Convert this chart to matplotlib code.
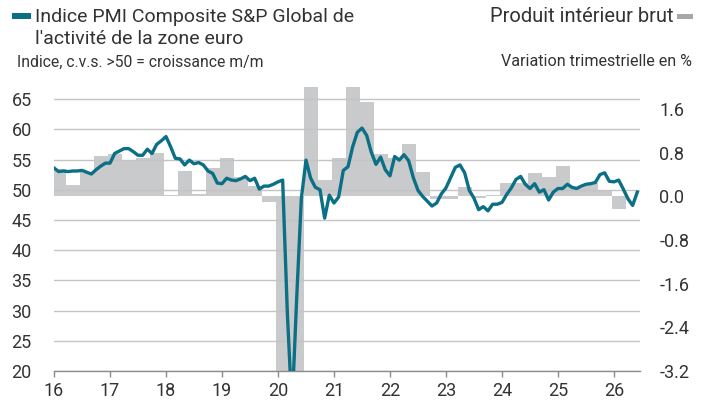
import matplotlib
matplotlib.use('Agg')

import matplotlib.pyplot as plt
import numpy as np
from matplotlib.ticker import FixedLocator, FormatStrFormatter
from matplotlib.patches import Rectangle

plt.rcParams['font.family'] = ['Roboto', 'DejaVu Sans']

# Indice PMI composite, mensuel, janv. 2016 -> juin 2026
pmi_2016 = [53.6, 53.0, 53.1, 53.0, 53.1, 53.1, 53.2, 52.9, 52.6, 53.3, 53.9, 54.4]
pmi_2017 = [54.4, 56.0, 56.4, 56.8, 56.8, 56.3, 55.7, 55.7, 56.7, 56.0, 57.5, 58.1]
pmi_2018 = [58.8, 57.1, 55.2, 55.1, 54.1, 54.9, 54.3, 54.5, 54.1, 53.1, 52.7, 51.1]
pmi_2019 = [51.0, 51.9, 51.6, 51.5, 51.8, 52.2, 51.5, 51.9, 50.1, 50.6, 50.6, 50.9]
pmi_2020 = [51.3, 51.6, 29.7, 13.6, 31.9, 48.5, 54.9, 51.9, 50.4, 50.0, 45.3, 49.1]
pmi_2021 = [47.8, 48.8, 53.2, 53.8, 57.1, 59.5, 60.2, 59.0, 56.2, 54.2, 55.4, 53.3]
pmi_2022 = [52.3, 55.5, 54.9, 55.8, 54.8, 52.0, 49.9, 48.9, 48.1, 47.3, 47.8, 49.3]
pmi_2023 = [50.3, 52.0, 53.7, 54.1, 52.8, 49.9, 48.6, 46.7, 47.2, 46.5, 47.6, 47.6]
pmi_2024 = [47.9, 49.2, 50.3, 51.7, 52.2, 50.9, 50.2, 51.0, 49.6, 50.0, 48.3, 49.6]
pmi_2025 = [50.2, 50.2, 50.9, 50.4, 50.2, 50.6, 50.9, 51.0, 51.2, 52.5, 52.8, 51.4]
pmi_2026 = [51.3, 51.6, 50.1, 48.5, 47.4, 49.6]

# PIB, variation trimestrielle en %, T1 2016 -> T1 2026
gdp_q = [0.5, 0.2, 0.45, 0.74,
         0.78, 0.65, 0.70, 0.79,
         0.03, 0.47, 0.05, 0.52,
         0.70, 0.35, 0.18, -0.11,
         -3.6, -11.1, 12.5, 0.3,
         0.70, 2.1, 1.73, 0.78,
         0.70, 0.96, 0.44, -0.05,
         -0.05, 0.16, -0.03, 0.03,
         0.25, 0.25, 0.43, 0.36,
         0.56, 0.17, 0.24, 0.12,
         -0.24]

year_ticks = list(range(16, 27))
left_ticks = [20, 25, 30, 35, 40, 45, 50, 55, 60, 65]
right_ticks = [-3.2, -2.4, -1.6, -0.8, 0.0, 0.8, 1.6]

pmi = np.array(pmi_2016 + pmi_2017 + pmi_2018 + pmi_2019 + pmi_2020 + pmi_2021
               + pmi_2022 + pmi_2023 + pmi_2024 + pmi_2025 + pmi_2026)
x_month = 16 + np.arange(len(pmi)) / 12
# bars centred on the middle month of each quarter
x_quarter = 16 + (3 * np.arange(len(gdp_q)) + 1) / 12

TEAL = '#0B6F86'
BAR_GREY = '#C9CACC'
GRID = '#C4C4C4'
TEXT = '#333333'
TICK_FS = 13

W, H = 709, 405
fig = plt.figure(figsize=(W / 100, H / 100), dpi=100)
ax = fig.add_axes([54 / W, 1 - 371 / H, (640 - 54) / W, (371 - 87) / H])
ax2 = ax.twinx()

# GDP bars on the right axis, drawn underneath
ax2.bar(x_quarter, gdp_q, width=0.25, color=BAR_GREY, linewidth=0)
ax2.set_ylim(-3.2, 2.0)
ax2.yaxis.set_major_locator(FixedLocator(right_ticks))
ax2.yaxis.set_major_formatter(FormatStrFormatter('%.1f'))
ax2.tick_params(axis='y', length=0, pad=14, labelsize=TICK_FS, labelcolor=TEXT)

# put the PMI axes on top
ax.set_zorder(ax2.get_zorder() + 1)
ax.patch.set_visible(False)

ax.plot(x_month, pmi, color=TEAL, linewidth=2.4, solid_joinstyle='round', zorder=3)
ax.set_ylim(20, 67)
ax.set_xlim(16, 26.465)
ax.yaxis.set_major_locator(FixedLocator(left_ticks))
ax.set_xticks(year_ticks)
ax.set_xticklabels([str(y) for y in year_ticks])
ax.grid(axis='y', color=GRID, linewidth=1.0, zorder=1)
ax.tick_params(axis='y', length=0, pad=16, labelsize=TICK_FS, labelcolor=TEXT)
ax.tick_params(axis='x', direction='out', length=4, width=1, color='#8C8C8C',
               pad=4, labelsize=TICK_FS, labelcolor=TEXT)

for a in (ax, ax2):
    for side in ('top', 'left', 'right', 'bottom'):
        a.spines[side].set_visible(False)
ax.spines['bottom'].set_visible(True)
ax.spines['bottom'].set_color('#8C8C8C')
ax.spines['bottom'].set_linewidth(1)

# legend / header texts
def px(x, y):
    return x / W, 1 - y / H

fig.patches.append(Rectangle(px(12, 19), 19 / W, 6 / H, transform=fig.transFigure,
                             color=TEAL, linewidth=0))
fig.text(*px(35, 17), 'Indice PMI Composite S&P Global de', fontsize=14,
         color=TEXT, ha='left', va='center')
fig.text(*px(35, 39), "l'activité de la zone euro", fontsize=14,
         color=TEXT, ha='left', va='center')
fig.text(*px(17, 62), 'Indice, c.v.s. >50 = croissance m/m', fontsize=11.3,
         color=TEXT, ha='left', va='center')

fig.patches.append(Rectangle(px(677, 19), 16 / W, 5 / H, transform=fig.transFigure,
                             color='#A6A7A9', linewidth=0))
fig.text(*px(673, 17), 'Produit intérieur brut', fontsize=14.5,
         color=TEXT, ha='right', va='center')
fig.text(*px(692, 62), 'Variation trimestrielle en %', fontsize=11.6,
         color=TEXT, ha='right', va='center')

fig.savefig('out.png', dpi=100)
